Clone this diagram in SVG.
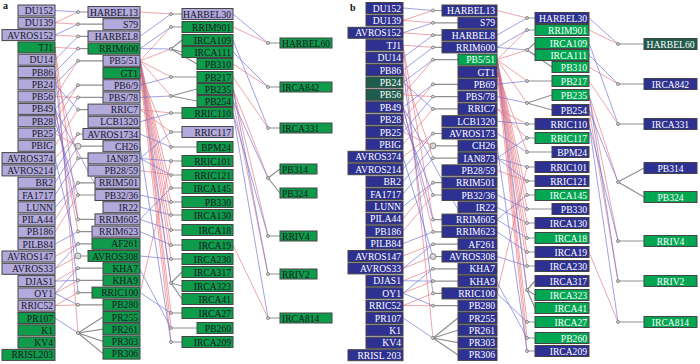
<svg xmlns="http://www.w3.org/2000/svg" width="700" height="364" viewBox="0 0 700 364">
<style>
.n rect{stroke:#454545;stroke-width:1}
text{font-family:'Liberation Serif','Times New Roman',serif;font-size:9.6px;text-anchor:end}
.lv{fill:#b2a9dc}.gn{fill:#0e9b4a}.bl{fill:#2e3192}.gb{fill:#00a651}.tl{fill:#1f5c4c}
.ta{fill:#151525}.tb{fill:#fff}
.s{text-anchor:start}.c{text-anchor:middle}
.r{stroke:#e6707a;stroke-width:.8;fill:none;opacity:.8}
.b{stroke:#6b6bd0;stroke-width:.8;fill:none;opacity:.8}
.g{stroke:#8f8f8f;stroke-width:1.2;fill:none}
.m{fill:#d8d8d8;stroke:#666;stroke-width:.7}
.lbl{font-weight:bold;font-size:10px;text-anchor:start;fill:#111}
</style>
<rect width="700" height="364" fill="#fff"/>
<g id="connectors">
<path class="r" d="M55 22.8L78 12M55 22.8L78 24.2M55 35.1L78 36.4M55 47.4L78 48.6M55 96.6L78 60.8M55 121.2L78 85.2M55 96.6L78 97.4M55 145.8L78 109.6M55 158.1L78 134M55 133.5L78 146.2M55 72L78 158.4M55 219.6L78 182.8M55 231.9L78 195M55 47.4L78 219.4M55 108.9L78 231.6M55 256.5L78 243.8M55 268.8L78 256M55 281.1L78 268.2M55 293.4L78 280.4M55 305.7L78 292.6M55 305.7L78 304.8M55 47.4L78 333"/>
<path class="b" d="M55 10.5L78 12M55 35.1L78 24.2M55 59.7L78 36.4M55 72L78 48.6M55 84.3L78 60.8M55 108.9L78 85.2M55 133.5L78 97.4M55 84.3L78 109.6M55 170.4L78 134M55 182.7L78 146.2M55 195L78 158.4M55 207.3L78 182.8M55 121.2L78 195M55 108.9L78 219.4M55 244.2L78 231.6M55 268.8L78 243.8M55 158.1L78 256M55 293.4L78 268.2M55 281.1L78 280.4M55 72L78 292.6M55 293.4L78 304.8M55 318L78 333"/>
<path class="r" d="M140 12L171 14M140 60.8L171 27M140 60.8L171 49M140 60.8L171 77M140 60.8L171 96M140 109.6L171 113M140 109.6L171 132M140 73L171 147M140 292.6L171 161M140 170.6L171 175M140 60.8L171 188M140 60.8L171 202M140 60.8L171 215M140 60.8L171 230M140 60.8L171 245M140 60.8L171 259M140 73L171 283M140 60.8L171 313M140 60.8L171 328M140 73L171 342"/>
<path class="b" d="M140 36.4L171 14M140 48.6L171 27M140 48.6L171 49M140 85.2L171 77M140 97.4L171 96M140 121.8L171 113M140 158.4L171 132M140 134L171 147M140 158.4L171 161M140 158.4L171 175M140 219.4L171 188M140 195L171 202M140 207.2L171 215M140 219.4L171 230M140 231.6L171 245M140 256L171 259M140 60.8L171 283M140 292.6L171 313M55 108.9L171 328M140 146.2L171 342"/>
<path class="r" d="M233 27L268 43M233 64L268 87M233 77L268 128M233 89L268 178M233 89L268 236M233 101L268 274M233 245L268 318"/>
<path class="b" d="M233 14L268 43M233 52L268 87M233 40L268 128M233 101L268 178M233 113L268 236M233 89L268 274M233 113L268 318"/>
<path class="g" d="M78 12H88M78 24.2H103M78 36.4H88M78 48.6H88M78 60.8H103M78 85.2H103M78 97.4H103M78 109.6H88M78 134H83M78 146.2H103M78 158.4H88M78 182.8H95M78 195H95M78 219.4H95M78 231.6H92M78 243.8H92M78 256H88M78 268.2H103M78 280.4H103M78 292.6H92M78 304.8H103M78 333L103 317M78 333L103 329.2M78 333L103 341.4M78 333L103 353.6"/>
<path class="g" d="M171 14H182M171 27H182M171 49L182 40M171 49L182 52M171 49L197 64M171 77H197M171 96L197 89M171 96L197 101M171 113H182M171 132H182M171 147H197M171 161H182M171 175H182M171 188H182M171 202H182M171 215H182M171 230H182M171 245H182M171 259H182M171 283L182 272M171 283L182 286M171 283L182 299M171 313H182M171 328H197M171 342H182"/>
<path class="g" d="M268 43H280M268 87H280M268 128H280M268 178L280 169M268 178L280 193M268 236H280M268 274H280M268 318H280"/>
<path class="r" d="M403 20.4L433 10.5M403 20.4L433 22.8M403 32.8L433 35.1M403 45.2L433 47.4M403 94.8L433 59.7M403 119.6L433 84.3M403 94.8L433 96.6M403 144.4L433 108.9M403 156.8L433 133.5M403 132L433 145.8M403 70L433 158.1M403 218.8L433 182.7M403 231.2L433 195M403 45.2L433 219.6M403 107.2L433 231.9M403 256L433 244.2M403 268.4L433 256.5M403 280.8L433 268.8M403 293.2L433 281.1M403 305.6L433 293.4M403 305.6L433 305.7M403 45.2L433 338"/>
<path class="b" d="M403 8L433 10.5M403 32.8L433 22.8M403 57.6L433 35.1M403 70L433 47.4M403 82.4L433 59.7M403 107.2L433 84.3M403 132L433 96.6M403 82.4L433 108.9M403 169.2L433 133.5M403 181.6L433 145.8M403 194L433 158.1M403 206.4L433 182.7M403 119.6L433 195M403 107.2L433 219.6M403 243.6L433 231.9M403 268.4L433 244.2M403 156.8L433 256.5M403 293.2L433 268.8M403 280.8L433 281.1M403 70L433 293.4M403 293.2L433 305.7M403 318L433 338"/>
<path class="r" d="M497 10.5L527 18M497 59.7L527 30M497 59.7L527 50M497 59.7L527 81M497 59.7L527 103M497 108.9L527 124M497 108.9L527 138M497 72L527 152M497 293.4L527 167M497 170.4L527 181M497 59.7L527 195M497 59.7L527 209M497 59.7L527 223M497 59.7L527 238M497 59.7L527 252M497 59.7L527 266M497 72L527 290M497 59.7L527 322M497 59.7L527 338M497 72L527 351"/>
<path class="b" d="M497 35.1L527 18M497 47.4L527 30M497 47.4L527 50M497 84.3L527 81M497 96.6L527 103M497 121.2L527 124M497 158.1L527 138M497 133.5L527 152M497 158.1L527 167M497 158.1L527 181M497 219.6L527 195M497 195L527 209M497 207.3L527 223M497 219.6L527 238M497 231.9L527 252M497 256.5L527 266M497 59.7L527 290M497 293.4L527 322M403 107.2L527 338M497 145.8L527 351"/>
<path class="r" d="M589 30L618 44M589 67L618 84M589 81L618 124M589 95L618 182M589 95L618 241M589 110L618 281M589 252L618 322"/>
<path class="b" d="M589 18L618 44M589 55L618 84M589 43L618 124M589 110L618 182M589 124L618 241M589 95L618 281M589 124L618 322"/>
<path class="g" d="M433 10.5H442M433 22.8H458M433 35.1H442M433 47.4H442M433 59.7H458M433 84.3H458M433 96.6H458M433 108.9H458M433 133.5H442M433 145.8H458M433 158.1H458M433 182.7H442M433 195H442M433 219.6H442M433 231.9H442M433 244.2H458M433 256.5H442M433 268.8H458M433 281.1H458M433 293.4H442M433 305.7H458M433 338L458 318M433 338L458 330.3M433 338L458 342.6M433 338L458 354.9"/>
<path class="g" d="M527 18H535M527 30H535M527 50L535 43M527 50L535 55M527 50L552 67M527 81H552M527 103L552 95M527 103L552 110M527 124H535M527 138H535M527 152H552M527 167H535M527 181H535M527 195H535M527 209H552M527 223H535M527 238H535M527 252H535M527 266H535M527 290L535 281M527 290L535 295M527 290L535 308M527 322H535M527 338H535M527 351H535"/>
<path class="g" d="M618 44H644M618 84H644M618 124H644M618 182L644 168M618 182L644 197M618 241H644M618 281H644M618 322H644"/>
<g id="junctions">
<circle class="m" cx="78" cy="12" r="1.5"/><circle class="m" cx="78" cy="24.2" r="1.5"/><circle class="m" cx="78" cy="36.4" r="1.5"/><circle class="m" cx="78" cy="48.6" r="1.5"/><circle class="m" cx="78" cy="60.8" r="1.5"/><circle class="m" cx="78" cy="85.2" r="1.5"/><circle class="m" cx="78" cy="97.4" r="1.5"/><circle class="m" cx="78" cy="109.6" r="1.5"/><circle class="m" cx="78" cy="134" r="1.5"/><circle class="m" cx="78" cy="146.2" r="3"/><circle class="m" cx="78" cy="158.4" r="1.5"/><circle class="m" cx="78" cy="182.8" r="1.5"/><circle class="m" cx="78" cy="195" r="1.5"/><circle class="m" cx="78" cy="219.4" r="1.5"/><circle class="m" cx="78" cy="231.6" r="1.5"/><circle class="m" cx="78" cy="243.8" r="1.5"/><circle class="m" cx="78" cy="256" r="3"/><circle class="m" cx="78" cy="268.2" r="1.5"/><circle class="m" cx="78" cy="280.4" r="1.5"/><circle class="m" cx="78" cy="292.6" r="1.5"/><circle class="m" cx="78" cy="304.8" r="1.5"/><circle class="m" cx="78" cy="333" r="1.5"/>
<circle class="m" cx="171" cy="14" r="1.5"/><circle class="m" cx="171" cy="27" r="1.5"/><circle class="m" cx="171" cy="49" r="1.5"/><circle class="m" cx="171" cy="77" r="1.5"/><circle class="m" cx="171" cy="96" r="1.5"/><circle class="m" cx="171" cy="113" r="1.5"/><circle class="m" cx="171" cy="132" r="1.5"/><circle class="m" cx="171" cy="147" r="1.5"/><circle class="m" cx="171" cy="161" r="1.5"/><circle class="m" cx="171" cy="175" r="1.5"/><circle class="m" cx="171" cy="188" r="1.5"/><circle class="m" cx="171" cy="202" r="1.5"/><circle class="m" cx="171" cy="215" r="1.5"/><circle class="m" cx="171" cy="230" r="1.5"/><circle class="m" cx="171" cy="245" r="1.5"/><circle class="m" cx="171" cy="259" r="1.5"/><circle class="m" cx="171" cy="283" r="1.5"/><circle class="m" cx="171" cy="313" r="1.5"/><circle class="m" cx="171" cy="328" r="1.5"/><circle class="m" cx="171" cy="342" r="1.5"/>
<circle class="m" cx="268" cy="43" r="1.5"/><circle class="m" cx="268" cy="87" r="1.5"/><circle class="m" cx="268" cy="128" r="1.5"/><circle class="m" cx="268" cy="178" r="1.5"/><circle class="m" cx="268" cy="236" r="1.5"/><circle class="m" cx="268" cy="274" r="1.5"/><circle class="m" cx="268" cy="318" r="1.5"/>
<circle class="m" cx="433" cy="10.5" r="1.5"/><circle class="m" cx="433" cy="22.8" r="1.5"/><circle class="m" cx="433" cy="35.1" r="1.5"/><circle class="m" cx="433" cy="47.4" r="1.5"/><circle class="m" cx="433" cy="59.7" r="1.5"/><circle class="m" cx="433" cy="84.3" r="1.5"/><circle class="m" cx="433" cy="96.6" r="1.5"/><circle class="m" cx="433" cy="108.9" r="1.5"/><circle class="m" cx="433" cy="133.5" r="1.5"/><circle class="m" cx="433" cy="145.8" r="3"/><circle class="m" cx="433" cy="158.1" r="1.5"/><circle class="m" cx="433" cy="182.7" r="1.5"/><circle class="m" cx="433" cy="195" r="1.5"/><circle class="m" cx="433" cy="219.6" r="1.5"/><circle class="m" cx="433" cy="231.9" r="1.5"/><circle class="m" cx="433" cy="244.2" r="1.5"/><circle class="m" cx="433" cy="256.5" r="3"/><circle class="m" cx="433" cy="268.8" r="1.5"/><circle class="m" cx="433" cy="281.1" r="1.5"/><circle class="m" cx="433" cy="293.4" r="1.5"/><circle class="m" cx="433" cy="305.7" r="1.5"/><circle class="m" cx="433" cy="338" r="1.5"/>
<circle class="m" cx="527" cy="18" r="1.5"/><circle class="m" cx="527" cy="30" r="1.5"/><circle class="m" cx="527" cy="50" r="1.5"/><circle class="m" cx="527" cy="81" r="1.5"/><circle class="m" cx="527" cy="103" r="1.5"/><circle class="m" cx="527" cy="124" r="1.5"/><circle class="m" cx="527" cy="138" r="1.5"/><circle class="m" cx="527" cy="152" r="1.5"/><circle class="m" cx="527" cy="167" r="1.5"/><circle class="m" cx="527" cy="181" r="1.5"/><circle class="m" cx="527" cy="195" r="1.5"/><circle class="m" cx="527" cy="209" r="1.5"/><circle class="m" cx="527" cy="223" r="1.5"/><circle class="m" cx="527" cy="238" r="1.5"/><circle class="m" cx="527" cy="252" r="1.5"/><circle class="m" cx="527" cy="266" r="1.5"/><circle class="m" cx="527" cy="290" r="1.5"/><circle class="m" cx="527" cy="322" r="1.5"/><circle class="m" cx="527" cy="338" r="1.5"/><circle class="m" cx="527" cy="351" r="1.5"/>
<circle class="m" cx="618" cy="44" r="1.5"/><circle class="m" cx="618" cy="84" r="1.5"/><circle class="m" cx="618" cy="124" r="1.5"/><circle class="m" cx="618" cy="182" r="1.5"/><circle class="m" cx="618" cy="241" r="1.5"/><circle class="m" cx="618" cy="281" r="1.5"/><circle class="m" cx="618" cy="322" r="1.5"/>
</g>
</g>
<text class="lbl" x="3" y="9">a</text>
<text class="lbl" x="350" y="11">b</text>
<g id="panel-a">
<g id="a-DU152" class="n"><rect class="lv" x="18" y="5" width="37" height="11"/><text class="ta" x="53" y="14">DU152</text></g>
<g id="a-DU139" class="n"><rect class="lv" x="18" y="17.3" width="37" height="11"/><text class="ta" x="53" y="26.3">DU139</text></g>
<g id="a-AVROS152" class="n"><rect class="lv" x="2" y="29.6" width="53" height="11"/><text class="ta" x="53" y="38.6">AVROS152</text></g>
<g id="a-TJ1" class="n"><rect class="gn" x="18" y="41.9" width="37" height="11"/><text class="ta" x="53" y="50.9">TJ1</text></g>
<g id="a-DU14" class="n"><rect class="lv" x="18" y="54.2" width="37" height="11"/><text class="ta" x="53" y="63.2">DU14</text></g>
<g id="a-PB86" class="n"><rect class="lv" x="18" y="66.5" width="37" height="11"/><text class="ta" x="53" y="75.5">PB86</text></g>
<g id="a-PB24" class="n"><rect class="lv" x="18" y="78.8" width="37" height="11"/><text class="ta" x="53" y="87.8">PB24</text></g>
<g id="a-PB56" class="n"><rect class="lv" x="18" y="91.1" width="37" height="11"/><text class="ta" x="53" y="100.1">PB56</text></g>
<g id="a-PB49" class="n"><rect class="lv" x="18" y="103.4" width="37" height="11"/><text class="ta" x="53" y="112.4">PB49</text></g>
<g id="a-PB28" class="n"><rect class="lv" x="18" y="115.7" width="37" height="11"/><text class="ta" x="53" y="124.7">PB28</text></g>
<g id="a-PB25" class="n"><rect class="lv" x="18" y="128" width="37" height="11"/><text class="ta" x="53" y="137">PB25</text></g>
<g id="a-PBIG" class="n"><rect class="lv" x="18" y="140.3" width="37" height="11"/><text class="ta" x="53" y="149.3">PBIG</text></g>
<g id="a-AVROS374" class="n"><rect class="lv" x="2" y="152.6" width="53" height="11"/><text class="ta" x="53" y="161.6">AVROS374</text></g>
<g id="a-AVROS214" class="n"><rect class="lv" x="2" y="164.9" width="53" height="11"/><text class="ta" x="53" y="173.9">AVROS214</text></g>
<g id="a-BR2" class="n"><rect class="lv" x="18" y="177.2" width="37" height="11"/><text class="ta" x="53" y="186.2">BR2</text></g>
<g id="a-FA1717" class="n"><rect class="lv" x="18" y="189.5" width="37" height="11"/><text class="ta" x="53" y="198.5">FA1717</text></g>
<g id="a-LUNN" class="n"><rect class="lv" x="18" y="201.8" width="37" height="11"/><text class="ta" x="53" y="210.8">LUNN</text></g>
<g id="a-PILA44" class="n"><rect class="lv" x="18" y="214.1" width="37" height="11"/><text class="ta" x="53" y="223.1">PILA44</text></g>
<g id="a-PB186" class="n"><rect class="lv" x="18" y="226.4" width="37" height="11"/><text class="ta" x="53" y="235.4">PB186</text></g>
<g id="a-PILB84" class="n"><rect class="lv" x="18" y="238.7" width="37" height="11"/><text class="ta" x="53" y="247.7">PILB84</text></g>
<g id="a-AVROS147" class="n"><rect class="lv" x="2" y="251" width="53" height="11"/><text class="ta" x="53" y="260">AVROS147</text></g>
<g id="a-AVROS33" class="n"><rect class="lv" x="2" y="263.3" width="53" height="11"/><text class="ta" x="53" y="272.3">AVROS33</text></g>
<g id="a-DJAS1" class="n"><rect class="lv" x="18" y="275.6" width="37" height="11"/><text class="ta" x="53" y="284.6">DJAS1</text></g>
<g id="a-OY1" class="n"><rect class="lv" x="18" y="287.9" width="37" height="11"/><text class="ta" x="53" y="296.9">OY1</text></g>
<g id="a-RRIC52" class="n"><rect class="lv" x="18" y="300.2" width="37" height="11"/><text class="ta" x="53" y="309.2">RRIC52</text></g>
<g id="a-PR107" class="n"><rect class="gn" x="18" y="312.5" width="37" height="11"/><text class="ta" x="53" y="321.5">PR107</text></g>
<g id="a-K1" class="n"><rect class="gn" x="18" y="324.8" width="37" height="11"/><text class="ta" x="53" y="333.8">K1</text></g>
<g id="a-KV4" class="n"><rect class="gn" x="18" y="337.1" width="37" height="11"/><text class="ta" x="53" y="346.1">KV4</text></g>
<g id="a-RRISL203" class="n"><rect class="gn" x="2" y="349.4" width="53" height="11"/><text class="ta" x="53" y="358.4">RRISL203</text></g>

<g id="a-HARBEL13" class="n"><rect class="lv" x="88" y="6.5" width="52" height="11"/><text class="ta" x="138" y="15.5">HARBEL13</text></g>
<g id="a-S79" class="n"><rect class="lv" x="103" y="18.7" width="37" height="11"/><text class="ta" x="138" y="27.7">S79</text></g>
<g id="a-HARBEL8" class="n"><rect class="lv" x="88" y="30.9" width="52" height="11"/><text class="ta" x="138" y="39.9">HARBEL8</text></g>
<g id="a-RRIM600" class="n"><rect class="gn" x="88" y="43.1" width="52" height="11"/><text class="ta" x="138" y="52.1">RRIM600</text></g>
<g id="a-PB5-51" class="n"><rect class="lv" x="103" y="55.3" width="37" height="11"/><text class="ta" x="138" y="64.3">PB5/51</text></g>
<g id="a-GT1" class="n"><rect class="gn" x="103" y="67.5" width="37" height="11"/><text class="ta" x="138" y="76.5">GT1</text></g>
<g id="a-PB6-9" class="n"><rect class="lv" x="103" y="79.7" width="37" height="11"/><text class="ta" x="138" y="88.7">PB6/9</text></g>
<g id="a-PBS-78" class="n"><rect class="lv" x="103" y="91.9" width="37" height="11"/><text class="ta" x="138" y="100.9">PBS/78</text></g>
<g id="a-RRIC7" class="n"><rect class="lv" x="88" y="104.1" width="52" height="11"/><text class="ta" x="138" y="113.1">RRIC7</text></g>
<g id="a-LCB1320" class="n"><rect class="lv" x="88" y="116.3" width="52" height="11"/><text class="ta" x="138" y="125.3">LCB1320</text></g>
<g id="a-AVROS1734" class="n"><rect class="lv" x="83" y="128.5" width="57" height="11"/><text class="ta" x="138" y="137.5">AVROS1734</text></g>
<g id="a-CH26" class="n"><rect class="lv" x="103" y="140.7" width="37" height="11"/><text class="ta" x="138" y="149.7">CH26</text></g>
<g id="a-IAN873" class="n"><rect class="lv" x="88" y="152.9" width="52" height="11"/><text class="ta" x="138" y="161.9">IAN873</text></g>
<g id="a-PB28-59" class="n"><rect class="lv" x="88" y="165.1" width="52" height="11"/><text class="ta" x="138" y="174.1">PB28/59</text></g>
<g id="a-RRIM501" class="n"><rect class="lv" x="95" y="177.3" width="45" height="11"/><text class="ta" x="138" y="186.3">RRIM501</text></g>
<g id="a-PB32-36" class="n"><rect class="lv" x="95" y="189.5" width="45" height="11"/><text class="ta" x="138" y="198.5">PB32/36</text></g>
<g id="a-IR22" class="n"><rect class="lv" x="103" y="201.7" width="37" height="11"/><text class="ta" x="138" y="210.7">IR22</text></g>
<g id="a-RRIM605" class="n"><rect class="lv" x="95" y="213.9" width="45" height="11"/><text class="ta" x="138" y="222.9">RRIM605</text></g>
<g id="a-RRIM623" class="n"><rect class="lv" x="92" y="226.1" width="48" height="11"/><text class="ta" x="138" y="235.1">RRIM623</text></g>
<g id="a-AF261" class="n"><rect class="gn" x="92" y="238.3" width="48" height="11"/><text class="ta" x="138" y="247.3">AF261</text></g>
<g id="a-AVROS308" class="n"><rect class="gn" x="88" y="250.5" width="52" height="11"/><text class="ta" x="138" y="259.5">AVROS308</text></g>
<g id="a-KHA7" class="n"><rect class="gn" x="103" y="262.7" width="37" height="11"/><text class="ta" x="138" y="271.7">KHA7</text></g>
<g id="a-KHA9" class="n"><rect class="gn" x="103" y="274.9" width="37" height="11"/><text class="ta" x="138" y="283.9">KHA9</text></g>
<g id="a-RRIC100" class="n"><rect class="gn" x="92" y="287.1" width="48" height="11"/><text class="ta" x="138" y="296.1">RRIC100</text></g>
<g id="a-PB280" class="n"><rect class="gn" x="103" y="299.3" width="37" height="11"/><text class="ta" x="138" y="308.3">PB280</text></g>
<g id="a-PR255" class="n"><rect class="gn" x="103" y="311.5" width="37" height="11"/><text class="ta" x="138" y="320.5">PR255</text></g>
<g id="a-PR261" class="n"><rect class="gn" x="103" y="323.7" width="37" height="11"/><text class="ta" x="138" y="332.7">PR261</text></g>
<g id="a-PR303" class="n"><rect class="gn" x="103" y="335.9" width="37" height="11"/><text class="ta" x="138" y="344.9">PR303</text></g>
<g id="a-PR306" class="n"><rect class="gn" x="103" y="348.1" width="37" height="11"/><text class="ta" x="138" y="357.1">PR306</text></g>

<g id="a-HARBEL30" class="n"><rect class="lv" x="182" y="8.5" width="51" height="11"/><text class="ta" x="231" y="17.5">HARBEL30</text></g>
<g id="a-RRIM901" class="n"><rect class="gn" x="182" y="21.5" width="51" height="11"/><text class="ta" x="231" y="30.5">RRIM901</text></g>
<g id="a-IRCA109" class="n"><rect class="gn" x="182" y="34.5" width="51" height="11"/><text class="ta" x="231" y="43.5">IRCA109</text></g>
<g id="a-IRCA111" class="n"><rect class="gn" x="182" y="46.5" width="51" height="11"/><text class="ta" x="231" y="55.5">IRCA111</text></g>
<g id="a-PB310" class="n"><rect class="gn" x="197" y="58.5" width="36" height="11"/><text class="ta" x="231" y="67.5">PB310</text></g>
<g id="a-PB217" class="n"><rect class="gn" x="197" y="71.5" width="36" height="11"/><text class="ta" x="231" y="80.5">PB217</text></g>
<g id="a-PB235" class="n"><rect class="gn" x="197" y="83.5" width="36" height="11"/><text class="ta" x="231" y="92.5">PB235</text></g>
<g id="a-PB254" class="n"><rect class="gn" x="197" y="95.5" width="36" height="11"/><text class="ta" x="231" y="104.5">PB254</text></g>
<g id="a-RRIC110" class="n"><rect class="gn" x="182" y="107.5" width="51" height="11"/><text class="ta" x="231" y="116.5">RRIC110</text></g>
<g id="a-RRIC117" class="n"><rect class="lv" x="182" y="126.5" width="51" height="11"/><text class="ta" x="231" y="135.5">RRIC117</text></g>
<g id="a-BPM24" class="n"><rect class="gn" x="197" y="141.5" width="36" height="11"/><text class="ta" x="231" y="150.5">BPM24</text></g>
<g id="a-RRIC101" class="n"><rect class="gn" x="182" y="155.5" width="51" height="11"/><text class="ta" x="231" y="164.5">RRIC101</text></g>
<g id="a-RRIC121" class="n"><rect class="gn" x="182" y="169.5" width="51" height="11"/><text class="ta" x="231" y="178.5">RRIC121</text></g>
<g id="a-IRCA145" class="n"><rect class="gn" x="182" y="182.5" width="51" height="11"/><text class="ta" x="231" y="191.5">IRCA145</text></g>
<g id="a-PB330" class="n"><rect class="gn" x="182" y="196.5" width="51" height="11"/><text class="ta" x="231" y="205.5">PB330</text></g>
<g id="a-IRCA130" class="n"><rect class="gn" x="182" y="209.5" width="51" height="11"/><text class="ta" x="231" y="218.5">IRCA130</text></g>
<g id="a-IRCA18" class="n"><rect class="gn" x="182" y="224.5" width="51" height="11"/><text class="ta" x="231" y="233.5">IRCA18</text></g>
<g id="a-IRCA19" class="n"><rect class="gn" x="182" y="239.5" width="51" height="11"/><text class="ta" x="231" y="248.5">IRCA19</text></g>
<g id="a-IRCA230" class="n"><rect class="gn" x="182" y="253.5" width="51" height="11"/><text class="ta" x="231" y="262.5">IRCA230</text></g>
<g id="a-IRCA317" class="n"><rect class="gn" x="182" y="266.5" width="51" height="11"/><text class="ta" x="231" y="275.5">IRCA317</text></g>
<g id="a-IRCA323" class="n"><rect class="gn" x="182" y="280.5" width="51" height="11"/><text class="ta" x="231" y="289.5">IRCA323</text></g>
<g id="a-IRCA41" class="n"><rect class="gn" x="182" y="293.5" width="51" height="11"/><text class="ta" x="231" y="302.5">IRCA41</text></g>
<g id="a-IRCA27" class="n"><rect class="gn" x="182" y="307.5" width="51" height="11"/><text class="ta" x="231" y="316.5">IRCA27</text></g>
<g id="a-PB260" class="n"><rect class="gn" x="197" y="322.5" width="36" height="11"/><text class="ta" x="231" y="331.5">PB260</text></g>
<g id="a-IRCA209" class="n"><rect class="gn" x="182" y="336.5" width="51" height="11"/><text class="ta" x="231" y="345.5">IRCA209</text></g>

<g id="a-HARBEL60" class="n"><rect class="gn" x="280" y="38" width="52" height="10"/><text class="ta s" x="282" y="46.5">HARBEL60</text></g>
<g id="a-IRCA842" class="n"><rect class="gn" x="280" y="82" width="52" height="10"/><text class="ta s" x="282" y="90.5">IRCA842</text></g>
<g id="a-IRCA331" class="n"><rect class="gn" x="280" y="123" width="52" height="10"/><text class="ta s" x="282" y="131.5">IRCA331</text></g>
<g id="a-PB314" class="n"><rect class="gn" x="280" y="164" width="37" height="10"/><text class="ta s" x="282" y="172.5">PB314</text></g>
<g id="a-PB324" class="n"><rect class="gn" x="280" y="188" width="37" height="10"/><text class="ta s" x="282" y="196.5">PB324</text></g>
<g id="a-RRIV4" class="n"><rect class="gn" x="280" y="231" width="37" height="10"/><text class="ta s" x="282" y="239.5">RRIV4</text></g>
<g id="a-RRIV2" class="n"><rect class="gn" x="280" y="269" width="37" height="10"/><text class="ta s" x="282" y="277.5">RRIV2</text></g>
<g id="a-IRCA814" class="n"><rect class="gn" x="280" y="313" width="52" height="10"/><text class="ta s" x="282" y="321.5">IRCA814</text></g>
</g>
<g id="panel-b">
<g id="b-DU152" class="n"><rect class="bl" x="366" y="2.5" width="37" height="11"/><text class="tb" x="401" y="11.5">DU152</text></g>
<g id="b-DU139" class="n"><rect class="bl" x="366" y="14.9" width="37" height="11"/><text class="tb" x="401" y="23.9">DU139</text></g>
<g id="b-AVROS152" class="n"><rect class="bl" x="348" y="27.3" width="55" height="11"/><text class="tb" x="401" y="36.3">AVROS152</text></g>
<g id="b-TJ1" class="n"><rect class="bl" x="366" y="39.7" width="37" height="11"/><text class="tb" x="401" y="48.7">TJ1</text></g>
<g id="b-DU14" class="n"><rect class="bl" x="366" y="52.1" width="37" height="11"/><text class="tb" x="401" y="61.1">DU14</text></g>
<g id="b-PB86" class="n"><rect class="bl" x="366" y="64.5" width="37" height="11"/><text class="tb" x="401" y="73.5">PB86</text></g>
<g id="b-PB24" class="n"><rect class="tl" x="366" y="76.9" width="37" height="11"/><text class="tb" x="401" y="85.9">PB24</text></g>
<g id="b-PB56" class="n"><rect class="tl" x="366" y="89.3" width="37" height="11"/><text class="tb" x="401" y="98.3">PB56</text></g>
<g id="b-PB49" class="n"><rect class="bl" x="366" y="101.7" width="37" height="11"/><text class="tb" x="401" y="110.7">PB49</text></g>
<g id="b-PB28" class="n"><rect class="bl" x="366" y="114.1" width="37" height="11"/><text class="tb" x="401" y="123.1">PB28</text></g>
<g id="b-PB25" class="n"><rect class="bl" x="366" y="126.5" width="37" height="11"/><text class="tb" x="401" y="135.5">PB25</text></g>
<g id="b-PBIG" class="n"><rect class="bl" x="366" y="138.9" width="37" height="11"/><text class="tb" x="401" y="147.9">PBIG</text></g>
<g id="b-AVROS374" class="n"><rect class="bl" x="348" y="151.3" width="55" height="11"/><text class="tb" x="401" y="160.3">AVROS374</text></g>
<g id="b-AVROS214" class="n"><rect class="bl" x="348" y="163.7" width="55" height="11"/><text class="tb" x="401" y="172.7">AVROS214</text></g>
<g id="b-BR2" class="n"><rect class="bl" x="366" y="176.1" width="37" height="11"/><text class="tb" x="401" y="185.1">BR2</text></g>
<g id="b-FA1717" class="n"><rect class="bl" x="366" y="188.5" width="37" height="11"/><text class="tb" x="401" y="197.5">FA1717</text></g>
<g id="b-LUNN" class="n"><rect class="bl" x="366" y="200.9" width="37" height="11"/><text class="tb" x="401" y="209.9">LUNN</text></g>
<g id="b-PILA44" class="n"><rect class="bl" x="366" y="213.3" width="37" height="11"/><text class="tb" x="401" y="222.3">PILA44</text></g>
<g id="b-PB186" class="n"><rect class="bl" x="366" y="225.7" width="37" height="11"/><text class="tb" x="401" y="234.7">PB186</text></g>
<g id="b-PILB84" class="n"><rect class="bl" x="366" y="238.1" width="37" height="11"/><text class="tb" x="401" y="247.1">PILB84</text></g>
<g id="b-AVROS147" class="n"><rect class="bl" x="348" y="250.5" width="55" height="11"/><text class="tb" x="401" y="259.5">AVROS147</text></g>
<g id="b-AVROS33" class="n"><rect class="bl" x="348" y="262.9" width="55" height="11"/><text class="tb" x="401" y="271.9">AVROS33</text></g>
<g id="b-DJAS1" class="n"><rect class="bl" x="366" y="275.3" width="37" height="11"/><text class="tb" x="401" y="284.3">DJAS1</text></g>
<g id="b-OY1" class="n"><rect class="bl" x="366" y="287.7" width="37" height="11"/><text class="tb" x="401" y="296.7">OY1</text></g>
<g id="b-RRIC52" class="n"><rect class="bl" x="366" y="300.1" width="37" height="11"/><text class="tb" x="401" y="309.1">RRIC52</text></g>
<g id="b-PR107" class="n"><rect class="bl" x="366" y="312.5" width="37" height="11"/><text class="tb" x="401" y="321.5">PR107</text></g>
<g id="b-K1" class="n"><rect class="bl" x="366" y="324.9" width="37" height="11"/><text class="tb" x="401" y="333.9">K1</text></g>
<g id="b-KV4" class="n"><rect class="bl" x="366" y="337.3" width="37" height="11"/><text class="tb" x="401" y="346.3">KV4</text></g>
<g id="b-RRISL203" class="n"><rect class="bl" x="348" y="349.7" width="55" height="11"/><text class="tb" x="401" y="358.7">RRISL 203</text></g>

<g id="b-HARBEL13" class="n"><rect class="bl" x="442" y="5" width="55" height="11"/><text class="tb" x="495" y="14">HARBEL13</text></g>
<g id="b-S79" class="n"><rect class="bl" x="458" y="17.3" width="39" height="11"/><text class="tb" x="495" y="26.3">S79</text></g>
<g id="b-HARBEL8" class="n"><rect class="bl" x="442" y="29.6" width="55" height="11"/><text class="tb" x="495" y="38.6">HARBEL8</text></g>
<g id="b-RRIM600" class="n"><rect class="bl" x="442" y="41.9" width="55" height="11"/><text class="tb" x="495" y="50.9">RRIM600</text></g>
<g id="b-PB5-51" class="n"><rect class="gb" x="458" y="54.2" width="39" height="11"/><text class="tb" x="495" y="63.2">PB5/51</text></g>
<g id="b-GT1" class="n"><rect class="bl" x="458" y="66.5" width="39" height="11"/><text class="tb" x="495" y="75.5">GT1</text></g>
<g id="b-PB69" class="n"><rect class="bl" x="458" y="78.8" width="39" height="11"/><text class="tb" x="495" y="87.8">PB69</text></g>
<g id="b-PBS-78" class="n"><rect class="bl" x="458" y="91.1" width="39" height="11"/><text class="tb" x="495" y="100.1">PBS/78</text></g>
<g id="b-RRIC7" class="n"><rect class="bl" x="458" y="103.4" width="39" height="11"/><text class="tb" x="495" y="112.4">RRIC7</text></g>
<g id="b-LCB1320" class="n"><rect class="bl" x="442" y="115.7" width="55" height="11"/><text class="tb" x="495" y="124.7">LCB1320</text></g>
<g id="b-AVROS173" class="n"><rect class="bl" x="442" y="128" width="55" height="11"/><text class="tb" x="495" y="137">AVROS173</text></g>
<g id="b-CH26" class="n"><rect class="bl" x="458" y="140.3" width="39" height="11"/><text class="tb" x="495" y="149.3">CH26</text></g>
<g id="b-IAN873" class="n"><rect class="bl" x="458" y="152.6" width="39" height="11"/><text class="tb" x="495" y="161.6">IAN873</text></g>
<g id="b-PB28-59" class="n"><rect class="bl" x="442" y="164.9" width="55" height="11"/><text class="tb" x="495" y="173.9">PB28/59</text></g>
<g id="b-RRIM501" class="n"><rect class="bl" x="442" y="177.2" width="55" height="11"/><text class="tb" x="495" y="186.2">RRIM501</text></g>
<g id="b-PB32-36" class="n"><rect class="bl" x="442" y="189.5" width="55" height="11"/><text class="tb" x="495" y="198.5">PB32/36</text></g>
<g id="b-IR22" class="n"><rect class="bl" x="458" y="201.8" width="39" height="11"/><text class="tb" x="495" y="210.8">IR22</text></g>
<g id="b-RRIM605" class="n"><rect class="bl" x="442" y="214.1" width="55" height="11"/><text class="tb" x="495" y="223.1">RRIM605</text></g>
<g id="b-RRIM623" class="n"><rect class="bl" x="442" y="226.4" width="55" height="11"/><text class="tb" x="495" y="235.4">RRIM623</text></g>
<g id="b-AF261" class="n"><rect class="bl" x="458" y="238.7" width="39" height="11"/><text class="tb" x="495" y="247.7">AF261</text></g>
<g id="b-AVROS308" class="n"><rect class="bl" x="442" y="251" width="55" height="11"/><text class="tb" x="495" y="260">AVROS308</text></g>
<g id="b-KHA7" class="n"><rect class="bl" x="458" y="263.3" width="39" height="11"/><text class="tb" x="495" y="272.3">KHA7</text></g>
<g id="b-KHA9" class="n"><rect class="bl" x="458" y="275.6" width="39" height="11"/><text class="tb" x="495" y="284.6">KHA9</text></g>
<g id="b-RRIC100" class="n"><rect class="bl" x="442" y="287.9" width="55" height="11"/><text class="tb" x="495" y="296.9">RRIC100</text></g>
<g id="b-PB280" class="n"><rect class="bl" x="458" y="300.2" width="39" height="11"/><text class="tb" x="495" y="309.2">PB280</text></g>
<g id="b-PR255" class="n"><rect class="bl" x="458" y="312.5" width="39" height="11"/><text class="tb" x="495" y="321.5">PR255</text></g>
<g id="b-PR261" class="n"><rect class="bl" x="458" y="324.8" width="39" height="11"/><text class="tb" x="495" y="333.8">PR261</text></g>
<g id="b-PR303" class="n"><rect class="bl" x="458" y="337.1" width="39" height="11"/><text class="tb" x="495" y="346.1">PR303</text></g>
<g id="b-PR306" class="n"><rect class="bl" x="458" y="349.4" width="39" height="11"/><text class="tb" x="495" y="358.4">PR306</text></g>

<g id="b-HARBEL30" class="n"><rect class="bl" x="535" y="12.5" width="54" height="11"/><text class="tb" x="587" y="21.5">HARBEL30</text></g>
<g id="b-RRIM901" class="n"><rect class="gb" x="535" y="24.5" width="54" height="11"/><text class="tb" x="587" y="33.5">RRIM901</text></g>
<g id="b-IRCA109" class="n"><rect class="gb" x="535" y="37.5" width="54" height="11"/><text class="tb" x="587" y="46.5">IRCA109</text></g>
<g id="b-IRCA111" class="n"><rect class="gb" x="535" y="49.5" width="54" height="11"/><text class="tb" x="587" y="58.5">IRCA111</text></g>
<g id="b-PB310" class="n"><rect class="gb" x="552" y="61.5" width="37" height="11"/><text class="tb" x="587" y="70.5">PB310</text></g>
<g id="b-PB217" class="n"><rect class="gb" x="552" y="75.5" width="37" height="11"/><text class="tb" x="587" y="84.5">PB217</text></g>
<g id="b-PB235" class="n"><rect class="gb" x="552" y="89.5" width="37" height="11"/><text class="tb" x="587" y="98.5">PB235</text></g>
<g id="b-PB254" class="n"><rect class="bl" x="552" y="104.5" width="37" height="11"/><text class="tb" x="587" y="113.5">PB254</text></g>
<g id="b-RRIC110" class="n"><rect class="bl" x="535" y="118.5" width="54" height="11"/><text class="tb" x="587" y="127.5">RRIC110</text></g>
<g id="b-RRIC117" class="n"><rect class="gb" x="535" y="132.5" width="54" height="11"/><text class="tb" x="587" y="141.5">RRIC117</text></g>
<g id="b-BPM24" class="n"><rect class="bl" x="552" y="146.5" width="37" height="11"/><text class="tb" x="587" y="155.5">BPM24</text></g>
<g id="b-RRIC101" class="n"><rect class="bl" x="535" y="161.5" width="54" height="11"/><text class="tb" x="587" y="170.5">RRIC101</text></g>
<g id="b-RRIC121" class="n"><rect class="bl" x="535" y="175.5" width="54" height="11"/><text class="tb" x="587" y="184.5">RRIC121</text></g>
<g id="b-IRCA145" class="n"><rect class="gb" x="535" y="189.5" width="54" height="11"/><text class="tb" x="587" y="198.5">IRCA145</text></g>
<g id="b-PB330" class="n"><rect class="bl" x="552" y="203.5" width="37" height="11"/><text class="tb" x="587" y="212.5">PB330</text></g>
<g id="b-IRCA130" class="n"><rect class="bl" x="535" y="217.5" width="54" height="11"/><text class="tb" x="587" y="226.5">IRCA130</text></g>
<g id="b-IRCA18" class="n"><rect class="gb" x="535" y="232.5" width="54" height="11"/><text class="tb" x="587" y="241.5">IRCA18</text></g>
<g id="b-IRCA19" class="n"><rect class="bl" x="535" y="246.5" width="54" height="11"/><text class="tb" x="587" y="255.5">IRCA19</text></g>
<g id="b-IRCA230" class="n"><rect class="bl" x="535" y="260.5" width="54" height="11"/><text class="tb" x="587" y="269.5">IRCA230</text></g>
<g id="b-IRCA317" class="n"><rect class="bl" x="535" y="275.5" width="54" height="11"/><text class="tb" x="587" y="284.5">IRCA317</text></g>
<g id="b-IRCA323" class="n"><rect class="gb" x="535" y="289.5" width="54" height="11"/><text class="tb" x="587" y="298.5">IRCA323</text></g>
<g id="b-IRCA41" class="n"><rect class="gb" x="535" y="302.5" width="54" height="11"/><text class="tb" x="587" y="311.5">IRCA41</text></g>
<g id="b-IRCA27" class="n"><rect class="gb" x="535" y="316.5" width="54" height="11"/><text class="tb" x="587" y="325.5">IRCA27</text></g>
<g id="b-PB260" class="n"><rect class="gb" x="535" y="332.5" width="54" height="11"/><text class="tb" x="587" y="341.5">PB260</text></g>
<g id="b-IRCA209" class="n"><rect class="bl" x="535" y="345.5" width="54" height="11"/><text class="tb" x="587" y="354.5">IRCA209</text></g>

<g id="b-HARBEL60" class="n"><rect class="tl" x="644" y="38.5" width="53" height="11"/><text class="tb c" x="670.5" y="47.5">HARBEL60</text></g>
<g id="b-IRCA842" class="n"><rect class="bl" x="644" y="78.5" width="53" height="11"/><text class="tb c" x="670.5" y="87.5">IRCA842</text></g>
<g id="b-IRCA331" class="n"><rect class="bl" x="644" y="118.5" width="53" height="11"/><text class="tb c" x="670.5" y="127.5">IRCA331</text></g>
<g id="b-PB314" class="n"><rect class="bl" x="644" y="162.5" width="53" height="11"/><text class="tb c" x="670.5" y="171.5">PB314</text></g>
<g id="b-PB324" class="n"><rect class="gb" x="644" y="191.5" width="53" height="11"/><text class="tb c" x="670.5" y="200.5">PB324</text></g>
<g id="b-RRIV4" class="n"><rect class="gb" x="644" y="235.5" width="53" height="11"/><text class="tb c" x="670.5" y="244.5">RRIV4</text></g>
<g id="b-RRIV2" class="n"><rect class="gb" x="644" y="275.5" width="53" height="11"/><text class="tb c" x="670.5" y="284.5">RRIV2</text></g>
<g id="b-IRCA814" class="n"><rect class="gb" x="644" y="316.5" width="53" height="11"/><text class="tb c" x="670.5" y="325.5">IRCA814</text></g>
</g>
</svg>
